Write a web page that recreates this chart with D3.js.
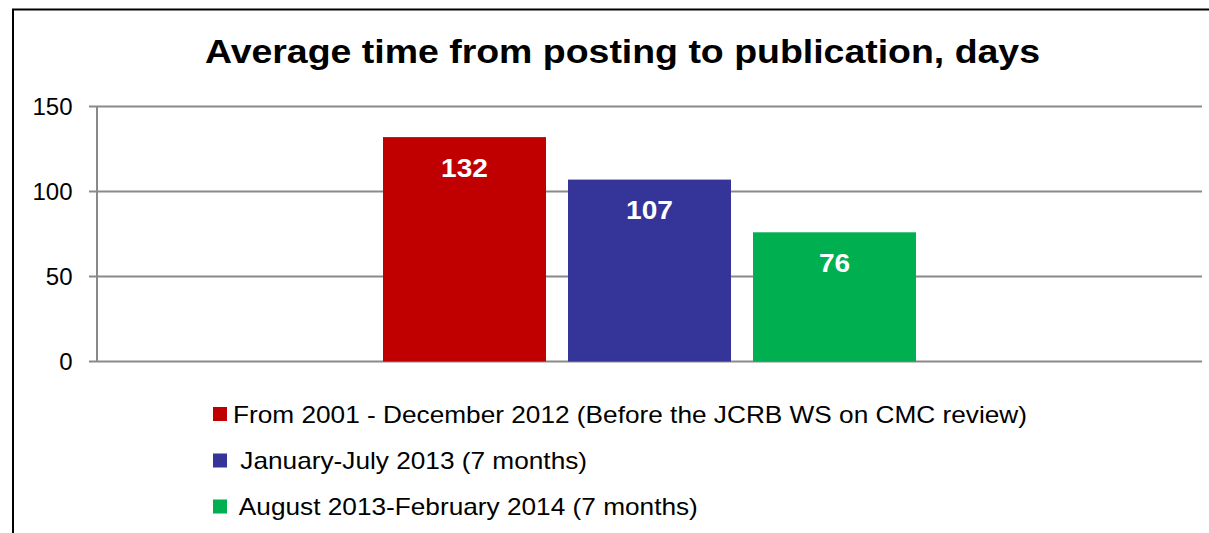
<!DOCTYPE html>
<html><head><meta charset="utf-8">
<script src="https://cdn.jsdelivr.net/npm/d3@7"></script>
<style>body{margin:0;background:#fff}svg{display:block}text{font-family:"Liberation Sans",Arial,sans-serif}</style>
</head><body><svg id="c" width="1209" height="533"></svg>
<script>
const title = "Average time from posting to publication, days";
const categories = ["Average"];
const seriesNames = ["From 2001 - December 2012 (Before the JCRB WS on CMC review)", " January-July 2013 (7 months)", " August 2013-February 2014 (7 months)"];
const seriesValues = [132, 107, 76];
const seriesColors = ["#C00000", "#353599", "#00B050"];
const yTicks = [0, 50, 100, 150];

const svg = d3.select("#c");
svg.append("rect").attr("x",13).attr("y",9.5).attr("width",1220).attr("height",540)
  .attr("fill","none").attr("stroke","#000").attr("stroke-width",2);

const t = svg.append("text").attr("x",622.5).attr("y",62.5).attr("text-anchor","middle")
  .attr("font-size",34).attr("font-weight","bold").attr("fill","#000").text(title);
t.attr("textLength",835).attr("lengthAdjust","spacingAndGlyphs");

const pL=97, pR=1202, pT=106.5, pB=361.5;
const y = d3.scaleLinear().domain([0,150]).range([pB, pT]);
const x0 = d3.scaleBand().domain(categories).range([pL,pR]).paddingInner(0).paddingOuter(0.5366);
const x1 = d3.scaleBand().domain(d3.range(seriesValues.length)).range([0,x0.bandwidth()]).paddingInner(0.119).paddingOuter(0);

svg.append("g").selectAll("line").data(yTicks).join("line")
  .attr("x1",pL-8).attr("x2",pR).attr("y1",d=>y(d)).attr("y2",d=>y(d))
  .attr("stroke","#898989").attr("stroke-width",2);
svg.append("line").attr("x1",pL).attr("x2",pL).attr("y1",pT).attr("y2",pB)
  .attr("stroke","#898989").attr("stroke-width",2);
svg.append("g").selectAll("text").data(yTicks).join("text")
  .attr("x",72.5).attr("y",d=>y(d)).attr("dy","0.36em").attr("text-anchor","end")
  .attr("font-size",24).attr("fill","#000").text(d=>d);

const g = svg.append("g").attr("transform",`translate(${x0(categories[0])},0)`);
g.selectAll("rect").data(seriesValues).join("rect")
  .attr("x",(d,i)=>x1(i)).attr("width",x1.bandwidth())
  .attr("y",d=>y(d)).attr("height",d=>y(0)-y(d))
  .attr("fill",(d,i)=>seriesColors[i]);
g.selectAll("text").data(seriesValues).join("text")
  .attr("x",(d,i)=>x1(i)+x1.bandwidth()/2).attr("y",d=>y(d)+39.5)
  .attr("text-anchor","middle").attr("font-size",26).attr("font-weight","bold")
  .attr("fill","#fff").text(d=>d)
  .each(function(){ const L=this.getComputedTextLength(); d3.select(this).attr("textLength",L*1.08).attr("lengthAdjust","spacingAndGlyphs"); });

const lg = svg.append("g");
const rowY = [414, 460.5, 506.5];
let factor = 1;
seriesNames.forEach((n,i)=>{
  lg.append("rect").attr("x",213).attr("y",rowY[i]-7).attr("width",14).attr("height",14).attr("fill",seriesColors[i]);
  const tx = lg.append("text").attr("x",233).attr("y",rowY[i]+8.5)
    .attr("font-size",24).attr("fill","#000").style("white-space","pre").text(n);
  const L = tx.node().getComputedTextLength();
  if (i===0) factor = 794/L;
  tx.attr("textLength",L*factor).attr("lengthAdjust","spacingAndGlyphs");
});
</script></body></html>
